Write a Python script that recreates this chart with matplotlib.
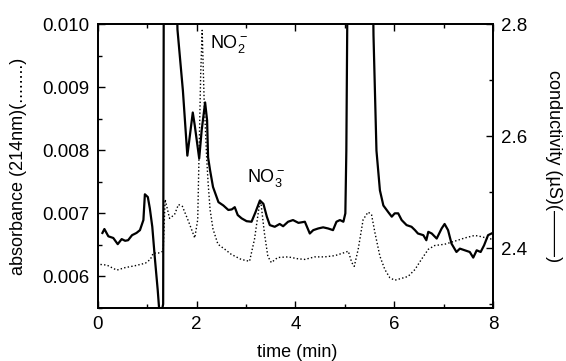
import matplotlib
matplotlib.use("Agg")
import matplotlib.pyplot as plt
import numpy as np
from matplotlib.ticker import MultipleLocator, FormatStrFormatter

plt.rcParams["font.family"] = ["Liberation Sans", "DejaVu Sans"]
plt.rcParams["mathtext.fontset"] = "custom"
plt.rcParams["mathtext.rm"] = "Liberation Sans"
plt.rcParams["mathtext.default"] = "regular"

# conductivity trace (solid), time in min, uS
cond_t = np.array([0.09, 0.13, 0.21, 0.31, 0.40, 0.48, 0.55, 0.61, 0.69, 0.78, 0.85, 0.92, 0.95,
                   1.01, 1.05, 1.10, 1.15, 1.21, 1.24, 1.29, 1.32, 1.34, 1.45, 1.56, 1.61, 1.72,
                   1.81, 1.92, 1.96, 2.05, 2.10, 2.17, 2.21, 2.23, 2.27, 2.33, 2.44, 2.54, 2.64,
                   2.71, 2.77, 2.83, 2.91, 3.01, 3.11, 3.19, 3.28, 3.35, 3.42, 3.48, 3.58, 3.68,
                   3.75, 3.85, 3.95, 4.06, 4.19, 4.29, 4.36, 4.46, 4.56, 4.66, 4.76, 4.83, 4.90,
                   4.97, 5.01, 5.03, 5.05, 5.06, 5.30, 5.55, 5.58, 5.64, 5.71, 5.78, 5.88, 5.95,
                   6.01, 6.08, 6.15, 6.25, 6.35, 6.42, 6.48, 6.59, 6.65, 6.69, 6.76, 6.86, 6.96,
                   7.02, 7.09, 7.16, 7.26, 7.33, 7.43, 7.53, 7.60, 7.67, 7.75, 7.82, 7.90, 7.97])
cond = np.array([2.427, 2.434, 2.421, 2.418, 2.407, 2.416, 2.413, 2.414, 2.423, 2.427, 2.432, 2.450, 2.496,
                 2.491, 2.471, 2.438, 2.384, 2.325, 2.290, 2.286, 2.300, 3.200, 3.400, 3.000, 2.790, 2.681,
                 2.565, 2.642, 2.619, 2.560, 2.610, 2.660, 2.628, 2.562, 2.539, 2.509, 2.482, 2.476, 2.468,
                 2.469, 2.473, 2.459, 2.453, 2.448, 2.447, 2.464, 2.485, 2.479, 2.456, 2.441, 2.438, 2.443,
                 2.439, 2.447, 2.450, 2.445, 2.447, 2.426, 2.432, 2.435, 2.437, 2.435, 2.432, 2.447, 2.450,
                 2.447, 2.462, 2.574, 2.820, 3.200, 3.500, 3.000, 2.780, 2.574, 2.503, 2.476, 2.464, 2.456,
                 2.462, 2.462, 2.450, 2.441, 2.438, 2.432, 2.426, 2.423, 2.414, 2.429, 2.426, 2.417, 2.435,
                 2.443, 2.432, 2.408, 2.393, 2.399, 2.396, 2.393, 2.383, 2.396, 2.393, 2.405, 2.423, 2.426])

# absorbance trace at 214 nm (dotted)
abs_t = np.array([0.05, 0.18, 0.38, 0.55, 0.75, 0.96, 1.06, 1.12, 1.22, 1.32, 1.36, 1.45, 1.55, 1.63,
                  1.71, 1.83, 1.96, 2.02, 2.08, 2.11, 2.15, 2.20, 2.23, 2.27, 2.33, 2.43, 2.57, 2.70,
                  2.90, 3.07, 3.17, 3.27, 3.30, 3.37, 3.44, 3.51, 3.64, 3.85, 4.05, 4.19, 4.39, 4.59,
                  4.80, 5.00, 5.07, 5.14, 5.19, 5.27, 5.37, 5.47, 5.54, 5.61, 5.71, 5.81, 5.91, 6.01,
                  6.15, 6.28, 6.42, 6.55, 6.69, 6.82, 7.02, 7.23, 7.43, 7.63, 7.77, 7.90, 8.0])
absorb = np.array([0.00619, 0.00618, 0.00610, 0.00614, 0.00617, 0.00621, 0.00627, 0.00637, 0.00637,
                   0.00640, 0.00722, 0.00692, 0.00698, 0.00714, 0.00711, 0.00688, 0.00661, 0.00690,
                   0.00920, 0.00990, 0.00880, 0.00790, 0.00749, 0.00706, 0.00675, 0.00651, 0.00643,
                   0.00635, 0.00627, 0.00624, 0.00659, 0.00714, 0.00717, 0.00669, 0.00632, 0.00622,
                   0.00630, 0.00631, 0.00628, 0.00627, 0.00631, 0.00631, 0.00633, 0.00638, 0.00640,
                   0.00622, 0.00616, 0.00643, 0.00690, 0.00702, 0.00698, 0.00669, 0.00632, 0.00611,
                   0.00598, 0.00594, 0.00597, 0.00600, 0.00611, 0.00627, 0.00643, 0.00649, 0.00651,
                   0.00656, 0.00661, 0.00665, 0.00663, 0.00660, 0.00659])

FS = 13

fig = plt.figure(figsize=(5.66, 3.61), dpi=100)
ax = fig.add_axes([0.1731, 0.1468, 0.6979, 0.7867])
ax2 = ax.twinx()

ax.plot(abs_t, absorb, color="black", lw=1.0, ls=(0, (1, 1.6)))
ax2.plot(cond_t, cond, color="black", lw=1.6)

ax.set_xlim(0, 8)
ax.set_ylim(0.0055, 0.010)
ax2.set_ylim(2.293, 2.8)

ax.xaxis.set_major_locator(MultipleLocator(2))
ax.xaxis.set_minor_locator(MultipleLocator(1))
ax.yaxis.set_major_locator(MultipleLocator(0.001))
ax.yaxis.set_minor_locator(MultipleLocator(0.0005))
ax.yaxis.set_major_formatter(FormatStrFormatter("%.3f"))
ax2.yaxis.set_major_locator(MultipleLocator(0.2))
ax2.yaxis.set_minor_locator(MultipleLocator(0.1))
ax2.yaxis.set_major_formatter(FormatStrFormatter("%.1f"))

ax.tick_params(which="both", direction="in", top=True, labelsize=13.5, width=1.0, pad=6)
ax.tick_params(which="major", length=5)
ax.tick_params(which="minor", length=3)
ax2.tick_params(which="both", direction="in", labelsize=13.5, width=1.0, pad=6)
ax2.tick_params(which="major", length=5)
ax2.tick_params(which="minor", length=3)
for a in (ax, ax2):
    for s in a.spines.values():
        s.set_linewidth(1.3)

ax.set_xlabel("time (min)", fontsize=FS)
ax.xaxis.set_label_coords(0.504, -0.125)
ax.set_ylabel("absorbance (214nm)(........)", fontsize=FS)
ax.yaxis.set_label_coords(-0.18, 0.5)
ax2.set_ylabel("conductivity (\u00b5S)(\u2014\u2014\u2013)", fontsize=FS, rotation=270, va="center")
ax2.yaxis.set_label_coords(1.152, 0.5)

ax.text(2.27, 0.00962, "NO$_2^-$", fontsize=FS, va="baseline")
ax.text(3.02, 0.00750, "NO$_3^-$", fontsize=FS, va="baseline")

fig.savefig("out.png", dpi=100)
